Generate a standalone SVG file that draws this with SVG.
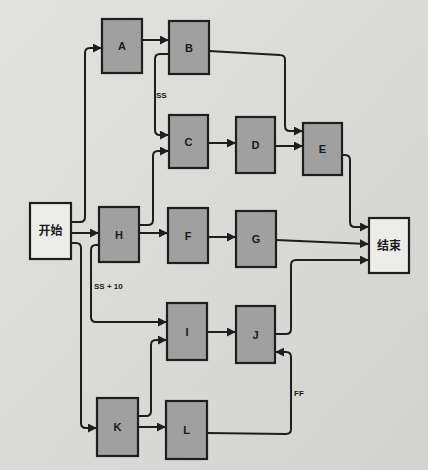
<svg xmlns="http://www.w3.org/2000/svg" width="428" height="470" viewBox="0 0 428 470">
<defs>
<marker id="ah" viewBox="0 0 10 10" refX="9" refY="5" markerWidth="4.5" markerHeight="4.5" orient="auto" markerUnits="strokeWidth">
<path d="M0,0 L10,5 L0,10 z" fill="#1e1e1e"/>
</marker>
<linearGradient id="bg" x1="0" y1="0" x2="1" y2="1">
<stop offset="0" stop-color="#e2e2df"/>
<stop offset="1" stop-color="#d2d2d0"/>
</linearGradient>
</defs>
<style>
.n rect{fill:#a0a0a0;stroke:#1e1e1e;stroke-width:2.2}
.t rect{fill:#ececea;stroke:#1e1e1e;stroke-width:2.2}
.n text,.t text{font-family:"Liberation Sans","Noto Sans CJK SC",sans-serif;font-weight:bold;fill:#1a1a1a;text-anchor:middle;dominant-baseline:central}
.n text{font-size:11px}
.t text{font-size:12px}
#edges path{fill:none;stroke:#1e1e1e;stroke-width:2;marker-end:url(#ah)}
.lbl{font-family:"Liberation Sans",sans-serif;font-size:8px;font-weight:bold;fill:#1a1a1a}
</style>
<rect width="428" height="470" fill="url(#bg)"/>
<g id="edges">
<path d="M71,222 H80 Q85,222 85,217 V53 Q85,48 90,48 H101"/>
<path d="M71,233 H98"/>
<path d="M71,243 H76 Q81,243 81,248 V423 Q81,428 86,428 H96"/>
<path d="M142,40 H168"/>
<path d="M169,54 H160 Q155,54 155,59 V130 Q155,135 160,135 H168"/>
<path d="M209,51 L280,55 Q285,55 285,60 V126 Q285,131 290,131 H302"/>
<path d="M208,143 H235"/>
<path d="M275,146 H302"/>
<path d="M139,225 H148 Q153,225 153,220 V156 Q153,151 158,151 H168"/>
<path d="M139,233 H167"/>
<path d="M208,237 H235"/>
<path d="M276,240 L368,244"/>
<path d="M342,155 H345 Q350,155 350,160 V222 Q350,227 355,227 H368"/>
<path d="M275,334 H286 Q291,334 291,329 V265 Q291,260 296,260 H368"/>
<path d="M99,245 H96 Q91,245 91,250 V317 Q91,322 96,322 H166"/>
<path d="M207,332 H235"/>
<path d="M138,416 H146 Q151,416 151,411 V345 Q151,340 156,340 H166"/>
<path d="M138,427 H165"/>
<path d="M207,433 L286,434 Q291,434 291,429 V357 Q291,352 286,352 H276"/>
</g>
<text class="lbl" x="156" y="98">SS</text>
<text class="lbl" x="94" y="289">SS + 10</text>
<text class="lbl" x="294" y="396">FF</text>
<g id="start" class="t"><rect x="30" y="203" width="41" height="56"/><text x="50.5" y="231">开始</text></g>
<g id="end" class="t"><rect x="369" y="218" width="40" height="55"/><text x="389" y="245.5">结束</text></g>
<g id="A" class="n"><rect x="102" y="19" width="40" height="54"/><text x="122" y="46">A</text></g>
<g id="B" class="n"><rect x="169" y="21" width="40" height="53"/><text x="189" y="48">B</text></g>
<g id="C" class="n"><rect x="169" y="115" width="39" height="53"/><text x="188.5" y="142">C</text></g>
<g id="D" class="n"><rect x="236" y="117" width="39" height="56"/><text x="255.5" y="145">D</text></g>
<g id="E" class="n"><rect x="303" y="123" width="39" height="52"/><text x="322.5" y="149">E</text></g>
<g id="H" class="n"><rect x="99" y="207" width="40" height="55"/><text x="119" y="234.5">H</text></g>
<g id="F" class="n"><rect x="168" y="208" width="40" height="55"/><text x="188" y="235.5">F</text></g>
<g id="G" class="n"><rect x="236" y="211" width="40" height="56"/><text x="256" y="239">G</text></g>
<g id="I" class="n"><rect x="167" y="303" width="40" height="57"/><text x="187" y="331.5">I</text></g>
<g id="J" class="n"><rect x="236" y="306" width="39" height="57"/><text x="255.5" y="334.5">J</text></g>
<g id="K" class="n"><rect x="97" y="398" width="41" height="58"/><text x="117.5" y="427">K</text></g>
<g id="L" class="n"><rect x="166" y="401" width="41" height="58"/><text x="186.5" y="430">L</text></g>
</svg>
